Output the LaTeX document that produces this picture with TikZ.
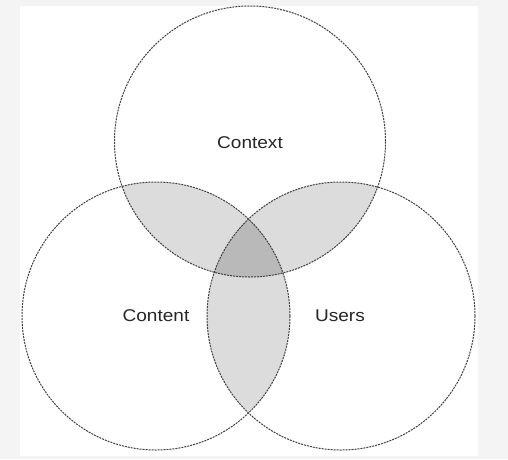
\documentclass[tikz,border=0pt]{standalone}
\usepackage{fontspec}
\setmainfont{Liberation Sans}
\definecolor{bgout}{HTML}{F4F4F4}
\definecolor{pairgray}{HTML}{DCDCDC}
\definecolor{triplegray}{HTML}{B9B9B9}
\definecolor{edge}{HTML}{404040}
\begin{document}
\begin{tikzpicture}[x=1pt,y=-1pt,
  venn/.style={draw=edge, line width=1pt, dash pattern=on 2pt off 1pt},
  lbl/.style={font=\fontsize{17}{20}\selectfont, text=black!85, xscale=1.12}]
\useasboundingbox (0,0) rectangle (508,459);
\fill[bgout] (0,0) rectangle (508,459);
\fill[white] (20,6) rectangle (478,456);
\coordinate (ctx) at (250,141.5);
\coordinate (cnt) at (156,316);
\coordinate (usr) at (341,316);
\def\rt{135.5}
\def\rs{134}
% pairwise regions
\begin{scope}
  \clip (ctx) circle (\rt);
  \fill[pairgray] (cnt) circle (\rs);
  \fill[pairgray] (usr) circle (\rs);
\end{scope}
\begin{scope}
  \clip (cnt) circle (\rs);
  \fill[pairgray] (usr) circle (\rs);
\end{scope}
% triple region
\begin{scope}
  \clip (ctx) circle (\rt);
  \clip (cnt) circle (\rs);
  \fill[triplegray] (usr) circle (\rs);
\end{scope}
% outlines
\draw[venn] (ctx) circle (\rt);
\draw[venn] (cnt) circle (\rs);
\draw[venn] (usr) circle (\rs);
% labels
\node[lbl] (lctx) at (250,143) {Context};
\node[lbl] (lcnt) at (156,316) {Content};
\node[lbl] (lusr) at (340,316) {Users};
\end{tikzpicture}
\end{document}
